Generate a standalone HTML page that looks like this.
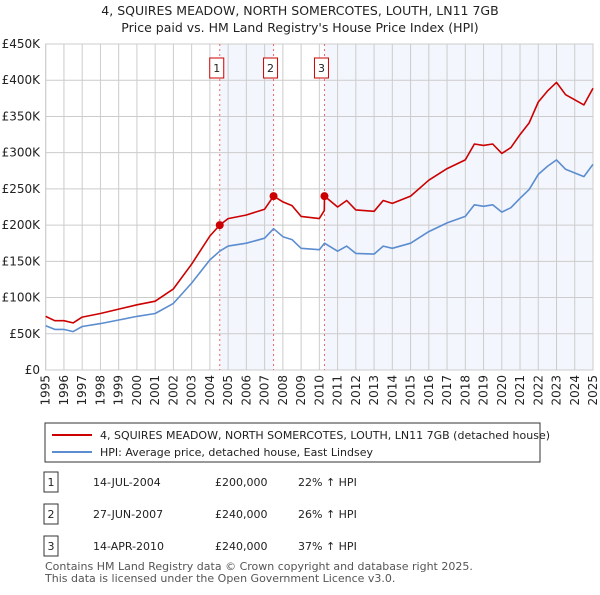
<!DOCTYPE html>
<html><head><meta charset="utf-8">
<style>
body{margin:0;background:#fff;font-family:"Liberation Sans","DejaVu Sans",sans-serif;}
svg text{font-family:"DejaVu Sans","Liberation Sans",sans-serif;}
</style></head>
<body>
<svg id="c" width="600" height="590" xmlns="http://www.w3.org/2000/svg">
<text x="300" y="15" text-anchor="middle" font-size="12.5" fill="#222">4, SQUIRES MEADOW, NORTH SOMERCOTES, LOUTH, LN11 7GB</text>
<text x="300" y="32" text-anchor="middle" font-size="12.5" fill="#222">Price paid vs. HM Land Registry's House Price Index (HPI)</text>
<g id="grid"></g>
<g id="marks"></g>
<rect x="45" y="423" width="495" height="39" fill="#fff" stroke="#333"/>
<line x1="52" y1="435" x2="92" y2="435" stroke="#cc0000" stroke-width="2"/>
<text x="100" y="439" font-size="11" fill="#222">4, SQUIRES MEADOW, NORTH SOMERCOTES, LOUTH, LN11 7GB (detached house)</text>
<line x1="52" y1="452" x2="92" y2="452" stroke="#5b8dd0" stroke-width="2"/>
<text x="100" y="456" font-size="11" fill="#222">HPI: Average price, detached house, East Lindsey</text>
<g id="table" font-size="11" fill="#222"></g>
<text x="45" y="570" font-size="11" fill="#555">Contains HM Land Registry data © Crown copyright and database right 2025.</text>
<text x="45" y="582" font-size="11" fill="#555">This data is licensed under the Open Government Licence v3.0.</text>
</svg>
<script>
const hpiYears=[1995,1995.5,1996,1996.5,1997,1998,1999,2000,2001,2002,2003,2004,2004.54,2005,2006,2007,2007.49,2008,2008.5,2009,2010,2010.28,2011,2011.5,2012,2013,2013.5,2014,2015,2016,2017,2018,2018.5,2019,2019.5,2020,2020.5,2021,2021.5,2022,2022.5,2023,2023.5,2024,2024.5,2025];
const hpiValues=[61,56,56,53,60,64,69,74,78,92,120,152,164,171,175,182,195,184,180,168,166,175,164,171,161,160,171,168,175,191,203,212,228,226,228,218,224,237,249,270,281,290,277,272,267,284];
const priceYears=[1995,1995.5,1996,1996.5,1997,1998,1999,2000,2001,2002,2003,2004,2004.54,2005,2006,2007,2007.49,2008,2008.5,2009,2010,2010.27,2010.28,2011,2011.5,2012,2013,2013.5,2014,2015,2016,2017,2018,2018.5,2019,2019.5,2020,2020.5,2021,2021.5,2022,2022.5,2023,2023.5,2024,2024.5,2025];
const priceValues=[74,68,68,65,73,78,84,90,95,112,146,185,200,209,214,222,240,232,227,212,209,220,240,225,234,221,219,234,230,240,262,278,290,312,310,312,299,307,325,341,370,385,397,380,373,366,389];
const saleLabels=["1","2","3"];
const saleYears=[2004.54,2007.49,2010.28];
const saleValues=[200,240,240];
const saleDates=["14-JUL-2004","27-JUN-2007","14-APR-2010"];
const salePrices=["£200,000","£240,000","£240,000"];
const saleHpi=["22% ↑ HPI","26% ↑ HPI","37% ↑ HPI"];
const yTicks=[0,50,100,150,200,250,300,350,400,450];
const yTickLabels=["£0","£50K","£100K","£150K","£200K","£250K","£300K","£350K","£400K","£450K"];
const xTicks=[1995,1996,1997,1998,1999,2000,2001,2002,2003,2004,2005,2006,2007,2008,2009,2010,2011,2012,2013,2014,2015,2016,2017,2018,2019,2020,2021,2022,2023,2024,2025];

const X0=45.7,X1=593,Y0=370,Y1=44;
const xs=y=>X0+(y-1995)/30*(X1-X0);
const ys=v=>Y0-v/450*(Y0-Y1);
const NS="http://www.w3.org/2000/svg";
function mk(tag,attrs,parent){const e=document.createElementNS(NS,tag);for(const k in attrs)e.setAttribute(k,attrs[k]);parent.appendChild(e);return e;}
const grid=document.getElementById('grid'),marks=document.getElementById('marks'),table=document.getElementById('table');

let r=mk('rect',{x:X0,y:Y1,width:X1-X0,height:Y0-Y1,fill:'#fff',stroke:'#ccc'},grid);


r=mk('rect',{x:xs(saleYears[0]),y:Y1,width:xs(saleYears[1])-xs(saleYears[0]),height:Y0-Y1,fill:'#eef2fc',opacity:0.7},grid);


r=mk('rect',{x:xs(saleYears[2]),y:Y1,width:X1-xs(saleYears[2]),height:Y0-Y1,fill:'#eef2fc',opacity:0.7},grid);



yTicks.forEach((v,i)=>{
  const l=mk('line',{x1:X0,x2:X1,y1:ys(v),y2:ys(v),stroke:'#ccc'},grid);
  
  
  const t=mk('text',{x:40,y:ys(v)+4,'text-anchor':'end','font-size':12,fill:'#222'},grid);
  t.textContent=yTickLabels[i];
  
  
});
xTicks.forEach(y=>{
  const l=mk('line',{x1:xs(y),x2:xs(y),y1:Y1,y2:Y0,stroke:'#ccc'},grid);
  
  
  const tx=xs(y)+4;
  const t=mk('text',{x:tx,y:375,'text-anchor':'end','font-size':12,fill:'#222',transform:'rotate(-90 '+tx+' 375)'},grid);
  t.textContent=y;
  
  
});
saleYears.forEach((y,i)=>{
  const l=mk('line',{x1:xs(y),x2:xs(y),y1:Y1,y2:Y0,stroke:'#e66','stroke-dasharray':'2,3'},marks);
  
  
});
function path(xa,va,col,name){
  const d=xa.map((y,i)=>(i?'L':'M')+xs(y).toFixed(1)+','+ys(va[i]).toFixed(1)).join('');
  const p=mk('path',{d:d,fill:'none',stroke:col,'stroke-width':1.6,'stroke-linejoin':'round'},marks);
  
  
}
path(hpiYears,hpiValues,'#5b8dd0','hpi-line');
path(priceYears,priceValues,'#cc0000','price-line');
saleYears.forEach((y,i)=>{
  const c=mk('circle',{cx:xs(y),cy:ys(saleValues[i]),r:4,fill:'#cc0000'},marks);
  
  
  const b=mk('rect',{x:xs(y)-10,y:58,width:14,height:20,fill:'#fff',stroke:'#cc0000'},marks);
  
  
  const t=mk('text',{x:xs(y)-3,y:72,'text-anchor':'middle','font-size':11,fill:'#222'},marks);
  t.textContent=saleLabels[i];
  
  
  const ry=482+i*32;
  const tb=mk('rect',{x:44,y:ry-10,width:14,height:20,fill:'#fff',stroke:'#333'},table);
  
  
  const tn=mk('text',{x:51,y:ry+4,'text-anchor':'middle'},table);tn.textContent=saleLabels[i];
  
  
  const td=mk('text',{x:93,y:ry+4},table);td.textContent=saleDates[i];
  
  
  const tp=mk('text',{x:215,y:ry+4},table);tp.textContent=salePrices[i];
  
  
  const th=mk('text',{x:298,y:ry+4},table);th.textContent=saleHpi[i];
  
  
});
</script>
</body></html>
